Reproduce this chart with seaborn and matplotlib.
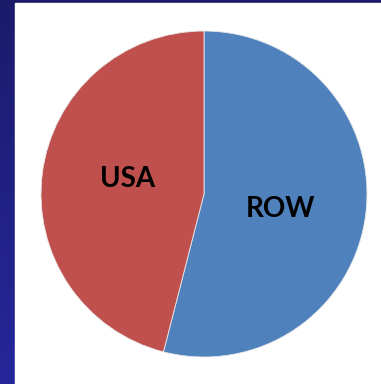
import numpy as np
import seaborn as sns
import matplotlib.pyplot as plt
from matplotlib.patches import Rectangle

regions = ["ROW", "USA"]
shares = [54, 46]
colors = ["#4F81BD", "#C0504D"]

sns.set_style("white")
plt.rcParams["font.family"] = ["Lato", "DejaVu Sans"]

fig = plt.figure(figsize=(3.81, 3.84), dpi=100)

# navy gradient frame behind the white panel
bg = fig.add_axes([0, 0, 1, 1])
grad = np.linspace(0, 1, 256).reshape(-1, 1)
cmap = sns.blend_palette(["#1b1b6c", "#26279b"], as_cmap=True)
bg.imshow(grad, aspect="auto", cmap=cmap, extent=[0, 1, 0, 1], origin="upper")
bg.add_patch(Rectangle((15 / 381, 0), 1, 1 - 3 / 384, color="white", transform=bg.transAxes))
bg.set_axis_off()

ax = fig.add_axes([41 / 381, 27 / 384, 326 / 381, 326 / 384])
wedges, texts = ax.pie(
    shares,
    labels=regions,
    colors=colors,
    startangle=90,
    counterclock=False,
    labeldistance=0.48,
    wedgeprops=dict(edgecolor="#e8e8e8", linewidth=0.6),
    textprops=dict(fontsize=20, fontweight="bold", color="black", ha="center", va="center"),
    radius=1,
)
# labels sit slightly clockwise of the wedge middle
for w, t in zip(wedges, texts):
    ang = np.deg2rad((w.theta1 + w.theta2) / 2 - 3.7)
    t.set_position((0.48 * np.cos(ang), 0.48 * np.sin(ang)))

ax.set_xlim(-1, 1)
ax.set_ylim(-1, 1)
ax.set_aspect("equal")

fig.savefig("out.png", dpi=100)
